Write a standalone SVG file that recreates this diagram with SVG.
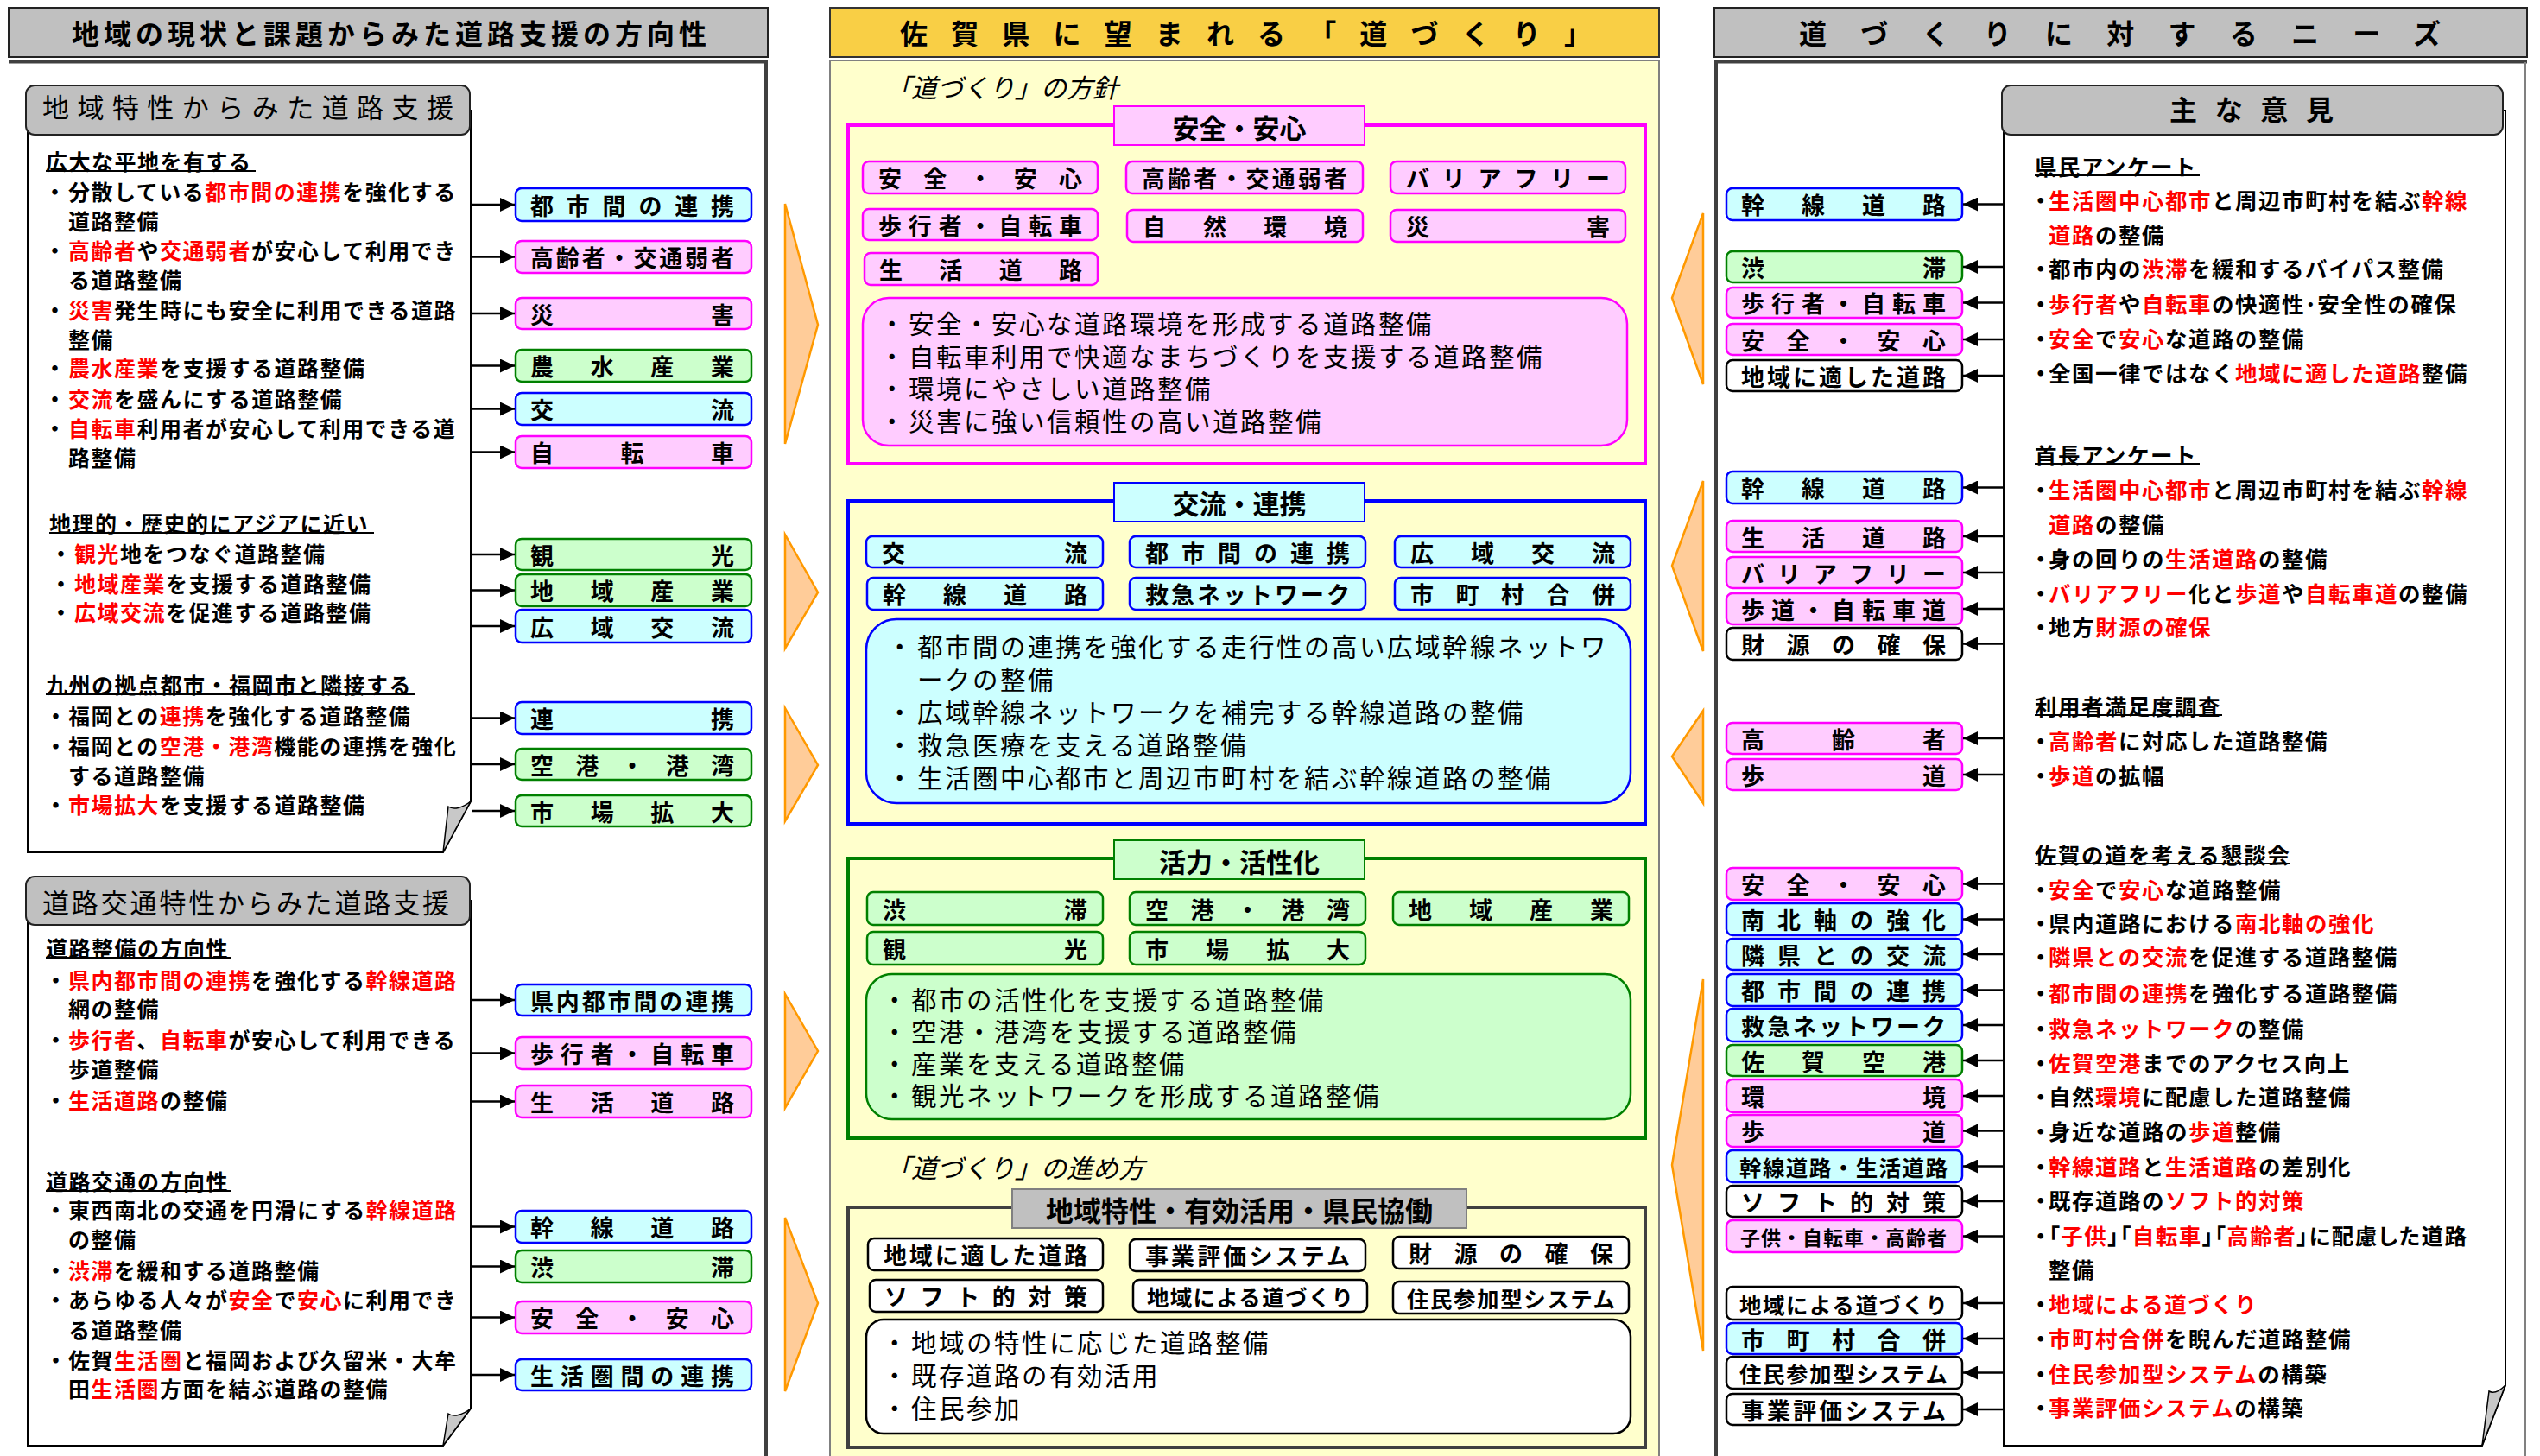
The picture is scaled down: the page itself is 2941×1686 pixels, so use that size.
<svg xmlns="http://www.w3.org/2000/svg" width="2941" height="1686" viewBox="0 0 2941 1686">
<style>
text{font-family:"Noto Sans CJK JP","Noto Sans CJK SC",sans-serif;dominant-baseline:central;fill:#000}
.tt{font-size:32px;font-weight:bold}
.sh{font-size:31px;font-weight:normal}
.t{font-size:25px;letter-spacing:1.5px;font-weight:bold}
.tr{font-size:25.5px;letter-spacing:1.5px;font-weight:bold}
.d{font-size:29.5px;letter-spacing:2.5px;font-weight:normal}
.it{font-size:30px;font-style:italic}
.hd{font-size:31px;font-weight:bold}
.lbl{font-size:27px;font-weight:bold}
.l26{font-size:25.5px}
.l23{font-size:23px}
.r{fill:#ff0000}
.palt{font-feature-settings:"palt"}
.bx{stroke-width:2.5}
.bl{fill:#ccffff;stroke:#0000ff}
.pk{fill:#ffccff;stroke:#ff00ff}
.gr{fill:#ccffcc;stroke:#008000}
.wh{fill:#ffffff;stroke:#000000}
.gy{fill:#c0c0c0;stroke:#222;stroke-width:2}
.ul{stroke:#000;stroke-width:2}
.ch{fill:#ffcc99;stroke:#ff9900;stroke-width:2.5}
.note{fill:#fff;stroke:#000;stroke-width:2}
.fold{fill:#c8c8c8;stroke:#000;stroke-width:1.5}
.ar{stroke:#000;stroke-width:2.5;fill:none;marker-end:url(#ah)}
</style>
<defs>
<marker id="ah" markerUnits="userSpaceOnUse" markerWidth="18" markerHeight="16" refX="17" refY="8" orient="auto"><path d="M0,0 L17,8 L0,16 Z" fill="#000"/></marker>
</defs>
<rect width="2941" height="1686" fill="#fff"/>

<!-- LEFT COLUMN -->
<g id="left-title">
<rect x="10" y="9" width="879" height="57" class="gy"/>
<text class="tt" x="83" y="37" textLength="735" lengthAdjust="spacing">地域の現状と課題からみた道路支援の方向性</text>
</g>
<path id="left-panel" d="M10,71.5 H887 V1690" fill="none" stroke="#404040" stroke-width="4"/>

<g id="left-note1">
<path class="note" d="M32,128 H545 V928 L513,987 H32 Z"/>
<path class="fold" d="M545,928 C535,936 525,938 519,934 L513,987 Z"/>
<rect x="30" y="99" width="514" height="57" rx="10" class="gy"/>
<text class="sh" x="49" y="122" textLength="476" lengthAdjust="spacing">地域特性からみた道路支援</text>
<line class="ul" x1="53" y1="198" x2="296" y2="198"/>
<line class="ul" x1="57" y1="617" x2="433" y2="617"/>
<line class="ul" x1="53" y1="804" x2="481" y2="804"/>
<text class="t"><tspan x="53" y="186">広大な平地を有する</tspan>
<tspan x="51" y="221">・</tspan><tspan x="79">分散している</tspan><tspan class="r">都市間の連携</tspan><tspan>を強化する</tspan>
<tspan x="79" y="255">道路整備</tspan>
<tspan x="51" y="289">・</tspan><tspan x="79" class="r">高齢者</tspan><tspan>や</tspan><tspan class="r">交通弱者</tspan><tspan>が安心して利用でき</tspan>
<tspan x="79" y="323">る道路整備</tspan>
<tspan x="51" y="358">・</tspan><tspan x="79" class="r">災害</tspan><tspan>発生時にも安全に利用できる道路</tspan>
<tspan x="79" y="392">整備</tspan>
<tspan x="51" y="425">・</tspan><tspan x="79" class="r">農水産業</tspan><tspan>を支援する道路整備</tspan>
<tspan x="51" y="461">・</tspan><tspan x="79" class="r">交流</tspan><tspan>を盛んにする道路整備</tspan>
<tspan x="51" y="495">・</tspan><tspan x="79" class="r">自転車</tspan><tspan>利用者が安心して利用できる道</tspan>
<tspan x="79" y="529">路整備</tspan>
<tspan x="57" y="605">地理的・歴史的にアジアに近い</tspan>
<tspan x="58" y="640">・</tspan><tspan x="86" class="r">観光</tspan><tspan>地をつなぐ道路整備</tspan>
<tspan x="58" y="675">・</tspan><tspan x="86" class="r">地域産業</tspan><tspan>を支援する道路整備</tspan>
<tspan x="58" y="708">・</tspan><tspan x="86" class="r">広域交流</tspan><tspan>を促進する道路整備</tspan>
<tspan x="53" y="792">九州の拠点都市・福岡市と隣接する</tspan>
<tspan x="52" y="828">・</tspan><tspan x="79">福岡との</tspan><tspan class="r">連携</tspan><tspan>を強化する道路整備</tspan>
<tspan x="52" y="863">・</tspan><tspan x="79">福岡との</tspan><tspan class="r">空港・港湾</tspan><tspan>機能の連携を強化</tspan>
<tspan x="79" y="897">する道路整備</tspan>
<tspan x="52" y="931">・</tspan><tspan x="79" class="r">市場拡大</tspan><tspan>を支援する道路整備</tspan></text>
</g>

<g id="left-note2">
<path class="note" d="M32,1043 H545 V1631 L513,1674 H32 Z"/>
<path class="fold" d="M545,1631 C535,1639 525,1641 519,1637 L513,1674 Z"/>
<rect x="30" y="1015" width="514" height="56" rx="10" class="gy"/>
<text class="sh" x="49" y="1043" textLength="471" lengthAdjust="spacing">道路交通特性からみた道路支援</text>
<line class="ul" x1="53" y1="1109" x2="268" y2="1109"/>
<line class="ul" x1="53" y1="1379" x2="268" y2="1379"/>
<text class="t"><tspan x="53" y="1097">道路整備の方向性</tspan>
<tspan x="52" y="1134">・</tspan><tspan x="79" class="r">県内都市間の連携</tspan><tspan>を強化する</tspan><tspan class="r">幹線道路</tspan>
<tspan x="79" y="1167">網の整備</tspan>
<tspan x="52" y="1203">・</tspan><tspan x="79" class="r">歩行者</tspan><tspan>、</tspan><tspan class="r">自転車</tspan><tspan>が安心して利用できる</tspan>
<tspan x="79" y="1237">歩道整備</tspan>
<tspan x="52" y="1273">・</tspan><tspan x="79" class="r">生活道路</tspan><tspan>の整備</tspan>
<tspan x="53" y="1367">道路交通の方向性</tspan>
<tspan x="52" y="1400">・</tspan><tspan x="79">東西南北の交通を円滑にする</tspan><tspan class="r">幹線道路</tspan>
<tspan x="79" y="1434">の整備</tspan>
<tspan x="52" y="1470">・</tspan><tspan x="79" class="r">渋滞</tspan><tspan>を緩和する道路整備</tspan>
<tspan x="52" y="1504">・</tspan><tspan x="79">あらゆる人々が</tspan><tspan class="r">安全</tspan><tspan>で</tspan><tspan class="r">安心</tspan><tspan>に利用でき</tspan>
<tspan x="79" y="1539">る道路整備</tspan>
<tspan x="52" y="1574">・</tspan><tspan x="79">佐賀</tspan><tspan class="r">生活圏</tspan><tspan>と福岡および久留米・大牟</tspan>
<tspan x="79" y="1607">田</tspan><tspan class="r">生活圏</tspan><tspan>方面を結ぶ道路の整備</tspan></text>
</g>

<g id="left-boxes">
<g id="L1"><rect class="bx bl" x="597" y="218" width="273" height="38" rx="7"/><text class="lbl" x="614" y="237" textLength="236" lengthAdjust="spacing">都市間の連携</text></g>
<g id="L2"><rect class="bx pk" x="597" y="279" width="273" height="37" rx="7"/><text class="lbl" x="614" y="297.5" textLength="236" lengthAdjust="spacing">高齢者・交通弱者</text></g>
<g id="L3"><rect class="bx pk" x="597" y="345" width="273" height="36" rx="7"/><text class="lbl" x="614" y="363" textLength="236" lengthAdjust="spacing">災害</text></g>
<g id="L4"><rect class="bx gr" x="597" y="405" width="273" height="37" rx="7"/><text class="lbl" x="614" y="423.5" textLength="236" lengthAdjust="spacing">農水産業</text></g>
<g id="L5"><rect class="bx bl" x="597" y="455" width="273" height="37" rx="7"/><text class="lbl" x="614" y="473.5" textLength="236" lengthAdjust="spacing">交流</text></g>
<g id="L6"><rect class="bx pk" x="597" y="505" width="273" height="37" rx="7"/><text class="lbl" x="614" y="523.5" textLength="236" lengthAdjust="spacing">自転車</text></g>
<g id="L7"><rect class="bx gr" x="597" y="624" width="273" height="36" rx="7"/><text class="lbl" x="614" y="642" textLength="236" lengthAdjust="spacing">観光</text></g>
<g id="L8"><rect class="bx gr" x="597" y="665" width="273" height="37" rx="7"/><text class="lbl" x="614" y="683.5" textLength="236" lengthAdjust="spacing">地域産業</text></g>
<g id="L9"><rect class="bx bl" x="597" y="706" width="273" height="38" rx="7"/><text class="lbl" x="614" y="725" textLength="236" lengthAdjust="spacing">広域交流</text></g>
<g id="L10"><rect class="bx bl" x="597" y="813" width="273" height="37" rx="7"/><text class="lbl" x="614" y="831.5" textLength="236" lengthAdjust="spacing">連携</text></g>
<g id="L11"><rect class="bx gr" x="597" y="867" width="273" height="36" rx="7"/><text class="lbl" x="614" y="885" textLength="236" lengthAdjust="spacing">空港・港湾</text></g>
<g id="L12"><rect class="bx gr" x="597" y="921" width="273" height="36" rx="7"/><text class="lbl" x="614" y="939" textLength="236" lengthAdjust="spacing">市場拡大</text></g>
<g id="L13"><rect class="bx bl" x="597" y="1140" width="273" height="36" rx="7"/><text class="lbl" x="614" y="1158" textLength="236" lengthAdjust="spacing">県内都市間の連携</text></g>
<g id="L14"><rect class="bx pk" x="597" y="1201" width="273" height="37" rx="7"/><text class="lbl" x="614" y="1219.5" textLength="236" lengthAdjust="spacing">歩行者・自転車</text></g>
<g id="L15"><rect class="bx pk" x="597" y="1257" width="273" height="37" rx="7"/><text class="lbl" x="614" y="1275.5" textLength="236" lengthAdjust="spacing">生活道路</text></g>
<g id="L16"><rect class="bx bl" x="597" y="1402" width="273" height="37" rx="7"/><text class="lbl" x="614" y="1420.5" textLength="236" lengthAdjust="spacing">幹線道路</text></g>
<g id="L17"><rect class="bx gr" x="597" y="1448" width="273" height="37" rx="7"/><text class="lbl" x="614" y="1466.5" textLength="236" lengthAdjust="spacing">渋滞</text></g>
<g id="L18"><rect class="bx pk" x="597" y="1507" width="273" height="37" rx="7"/><text class="lbl" x="614" y="1525.5" textLength="236" lengthAdjust="spacing">安全・安心</text></g>
<g id="L19"><rect class="bx bl" x="597" y="1574" width="273" height="36" rx="7"/><text class="lbl" x="614" y="1592" textLength="236" lengthAdjust="spacing">生活圏間の連携</text></g>
</g>

<!-- MIDDLE COLUMN -->
<g id="mid-title">
<rect x="961" y="9" width="960" height="57" fill="#f9cf45" stroke="#333" stroke-width="2"/>
<text class="tt" x="1042" y="37" textLength="801" lengthAdjust="spacing">佐賀県に望まれる「道づくり」</text>
</g>
<rect id="mid-panel" x="961" y="70" width="960" height="1630" fill="#ffffcc" stroke="#808080" stroke-width="2"/>
<text class="it" x="1025" y="100">「道づくり」の方針</text>

<g id="grp-anzen">
<rect x="982" y="145" width="923" height="392" fill="none" stroke="#ff00ff" stroke-width="4"/>
<rect x="1290" y="123" width="290" height="45" fill="#ffccff" stroke="#ff00ff" stroke-width="2"/>
<text class="hd" x="1435" y="146" text-anchor="middle">安全・安心</text>
<g id="M1"><rect class="bx pk" x="999" y="187" width="272" height="37" rx="7"/><text class="lbl" x="1017" y="205.5" textLength="236" lengthAdjust="spacing">安全・安心</text></g>
<g id="M2"><rect class="bx pk" x="1304" y="187" width="274" height="37" rx="7"/><text class="lbl" x="1322" y="205.5" textLength="238" lengthAdjust="spacing">高齢者・交通弱者</text></g>
<g id="M3"><rect class="bx pk" x="1610" y="187" width="272" height="37" rx="7"/><text class="lbl" x="1628" y="205.5" textLength="236" lengthAdjust="spacing">バリアフリー</text></g>
<g id="M4"><rect class="bx pk" x="999" y="242" width="272" height="36" rx="7"/><text class="lbl" x="1017" y="260" textLength="236" lengthAdjust="spacing">歩行者・自転車</text></g>
<g id="M5"><rect class="bx pk" x="1305" y="243" width="273" height="37" rx="7"/><text class="lbl" x="1323" y="261.5" textLength="237" lengthAdjust="spacing">自然環境</text></g>
<g id="M6"><rect class="bx pk" x="1610" y="243" width="272" height="37" rx="7"/><text class="lbl" x="1628" y="261.5" textLength="236" lengthAdjust="spacing">災害</text></g>
<g id="M7"><rect class="bx pk" x="1001" y="293" width="270" height="37" rx="7"/><text class="lbl" x="1018" y="311.5" textLength="235" lengthAdjust="spacing">生活道路</text></g>
<rect x="999" y="345" width="885" height="171" rx="30" fill="#ffccff" stroke="#ff00ff" stroke-width="2.5"/>
<text class="d"><tspan x="1018" y="373">・</tspan><tspan x="1052">安全・安心な道路環境を形成する道路整備</tspan>
<tspan x="1018" y="411">・</tspan><tspan x="1052">自転車利用で快適なまちづくりを支援する道路整備</tspan>
<tspan x="1018" y="448">・</tspan><tspan x="1052">環境にやさしい道路整備</tspan>
<tspan x="1018" y="486">・</tspan><tspan x="1052">災害に強い信頼性の高い道路整備</tspan></text>
</g>

<g id="grp-koryu">
<rect x="982" y="580" width="923" height="374" fill="none" stroke="#0000ff" stroke-width="4"/>
<rect x="1290" y="559" width="290" height="45" fill="#ccffff" stroke="#0000ff" stroke-width="2"/>
<text class="hd" x="1435" y="581" text-anchor="middle">交流・連携</text>
<g id="M8"><rect class="bx bl" x="1003" y="621" width="274" height="36" rx="7"/><text class="lbl" x="1021" y="639" textLength="238" lengthAdjust="spacing">交流</text></g>
<g id="M9"><rect class="bx bl" x="1308" y="621" width="273" height="36" rx="7"/><text class="lbl" x="1326" y="639" textLength="237" lengthAdjust="spacing">都市間の連携</text></g>
<g id="M10"><rect class="bx bl" x="1615" y="621" width="273" height="36" rx="7"/><text class="lbl" x="1633" y="639" textLength="237" lengthAdjust="spacing">広域交流</text></g>
<g id="M11"><rect class="bx bl" x="1004" y="669" width="273" height="37" rx="7"/><text class="lbl" x="1022" y="687.5" textLength="237" lengthAdjust="spacing">幹線道路</text></g>
<g id="M12"><rect class="bx bl" x="1308" y="669" width="273" height="37" rx="7"/><text class="lbl" x="1326" y="687.5" textLength="237" lengthAdjust="spacing">救急ネットワーク</text></g>
<g id="M13"><rect class="bx bl" x="1615" y="669" width="273" height="37" rx="7"/><text class="lbl" x="1633" y="687.5" textLength="237" lengthAdjust="spacing">市町村合併</text></g>
<rect x="1003" y="717" width="885" height="213" rx="35" fill="#ccffff" stroke="#0000ff" stroke-width="2.5"/>
<text class="d"><tspan x="1027" y="747">・</tspan><tspan x="1062">都市間の連携を強化する走行性の高い広域幹線ネットワ</tspan>
<tspan x="1062" y="785">ークの整備</tspan>
<tspan x="1027" y="823">・</tspan><tspan x="1062">広域幹線ネットワークを補完する幹線道路の整備</tspan>
<tspan x="1027" y="861">・</tspan><tspan x="1062">救急医療を支える道路整備</tspan>
<tspan x="1027" y="899">・</tspan><tspan x="1062">生活圏中心都市と周辺市町村を結ぶ幹線道路の整備</tspan></text>
</g>

<g id="grp-katsuryoku">
<rect x="982" y="994" width="923" height="324" fill="none" stroke="#008000" stroke-width="4"/>
<rect x="1290" y="973" width="290" height="45" fill="#ccffcc" stroke="#008000" stroke-width="2"/>
<text class="hd" x="1435" y="996" text-anchor="middle">活力・活性化</text>
<g id="M14"><rect class="bx gr" x="1004" y="1033" width="273" height="38" rx="7"/><text class="lbl" x="1022" y="1052" textLength="237" lengthAdjust="spacing">渋滞</text></g>
<g id="M15"><rect class="bx gr" x="1308" y="1033" width="273" height="38" rx="7"/><text class="lbl" x="1326" y="1052" textLength="237" lengthAdjust="spacing">空港・港湾</text></g>
<g id="M16"><rect class="bx gr" x="1613" y="1033" width="273" height="38" rx="7"/><text class="lbl" x="1631" y="1052" textLength="237" lengthAdjust="spacing">地域産業</text></g>
<g id="M17"><rect class="bx gr" x="1004" y="1079" width="273" height="38" rx="7"/><text class="lbl" x="1022" y="1098" textLength="237" lengthAdjust="spacing">観光</text></g>
<g id="M18"><rect class="bx gr" x="1308" y="1079" width="273" height="38" rx="7"/><text class="lbl" x="1326" y="1098" textLength="237" lengthAdjust="spacing">市場拡大</text></g>
<rect x="1003" y="1128" width="885" height="168" rx="30" fill="#ccffcc" stroke="#008000" stroke-width="2.5"/>
<text class="d"><tspan x="1021" y="1156">・</tspan><tspan x="1055">都市の活性化を支援する道路整備</tspan>
<tspan x="1021" y="1193">・</tspan><tspan x="1055">空港・港湾を支援する道路整備</tspan>
<tspan x="1021" y="1230">・</tspan><tspan x="1055">産業を支える道路整備</tspan>
<tspan x="1021" y="1267">・</tspan><tspan x="1055">観光ネットワークを形成する道路整備</tspan></text>
</g>

<text class="it" x="1025" y="1351">「道づくり」の進め方</text>

<g id="grp-chiiki">
<rect x="982" y="1398" width="923" height="278" fill="none" stroke="#404040" stroke-width="4"/>
<rect x="1172" y="1377" width="526" height="45" fill="#c0c0c0" stroke="#808080" stroke-width="2"/>
<text class="tt" x="1435" y="1400" text-anchor="middle">地域特性・有効活用・県民協働</text>
<g id="M19"><rect class="bx wh" x="1005" y="1434" width="272" height="37" rx="7"/><text class="lbl" x="1023" y="1452.5" textLength="236" lengthAdjust="spacing">地域に適した道路</text></g>
<g id="M20"><rect class="bx wh" x="1308" y="1435" width="273" height="37" rx="7"/><text class="lbl" x="1326" y="1453.5" textLength="237" lengthAdjust="spacing">事業評価システム</text></g>
<g id="M21"><rect class="bx wh" x="1613" y="1432" width="273" height="37" rx="7"/><text class="lbl" x="1631" y="1450.5" textLength="237" lengthAdjust="spacing">財源の確保</text></g>
<g id="M22"><rect class="bx wh" x="1007" y="1482" width="270" height="37" rx="7"/><text class="lbl" x="1024" y="1500.5" textLength="235" lengthAdjust="spacing">ソフト的対策</text></g>
<g id="M23"><rect class="bx wh" x="1312" y="1482" width="271" height="37" rx="7"/><text class="lbl l26" x="1328" y="1500.5" textLength="239" lengthAdjust="spacing">地域による道づくり</text></g>
<g id="M24"><rect class="bx wh" x="1613" y="1484" width="273" height="37" rx="7"/><text class="lbl l26" x="1629" y="1502.5" textLength="241" lengthAdjust="spacing">住民参加型システム</text></g>
<rect x="1003" y="1528" width="885" height="132" rx="20" fill="#ffffff" stroke="#000" stroke-width="2.5"/>
<text class="d"><tspan x="1021" y="1553">・</tspan><tspan x="1055">地域の特性に応じた道路整備</tspan>
<tspan x="1021" y="1591">・</tspan><tspan x="1055">既存道路の有効活用</tspan>
<tspan x="1021" y="1629">・</tspan><tspan x="1055">住民参加</tspan></text>
</g>

<!-- RIGHT COLUMN -->
<g id="right-title">
<rect x="1985" y="9" width="941" height="57" class="gy"/>
<text class="tt" x="2083" y="37" textLength="743" lengthAdjust="spacing">道づくりに対するニーズ</text>
</g>
<g id="right-panel">
<path d="M1987,1690 V71.5 H2926" fill="none" stroke="#404040" stroke-width="4"/>
<line x1="2924" y1="72" x2="2924" y2="1690" stroke="#808080" stroke-width="2"/>
</g>

<g id="right-note">
<path class="note" d="M2320,128 H2901 V1604 L2874,1674 H2320 Z"/>
<path class="fold" d="M2901,1604 C2893,1612 2887,1614 2882,1611 L2874,1674 Z"/>
<rect x="2318" y="99" width="580" height="57" rx="10" class="gy"/>
<text class="tt" x="2512" y="125" textLength="190" lengthAdjust="spacing">主な意見</text>
<line class="ul" x1="2356" y1="203" x2="2547" y2="203"/>
<line class="ul" x1="2356" y1="537" x2="2547" y2="537"/>
<line class="ul" x1="2356" y1="828" x2="2573" y2="828"/>
<line class="ul" x1="2356" y1="1000" x2="2652" y2="1000"/>
<text class="tr"><tspan x="2356" y="191">県民アンケート</tspan>
<tspan x="2350" y="230">・</tspan><tspan x="2372" class="r">生活圏中心都市</tspan><tspan>と周辺市町村を結ぶ</tspan><tspan class="r">幹線</tspan>
<tspan x="2372" y="270" class="r">道路</tspan><tspan>の整備</tspan>
<tspan x="2350" y="309">・</tspan><tspan x="2372">都市内の</tspan><tspan class="r">渋滞</tspan><tspan>を緩和するバイパス整備</tspan>
<tspan x="2350" y="350">・</tspan><tspan x="2372" class="r">歩行者</tspan><tspan>や</tspan><tspan class="r">自転車</tspan><tspan>の快適性･安全性の確保</tspan>
<tspan x="2350" y="390">・</tspan><tspan x="2372" class="r">安全</tspan><tspan>で</tspan><tspan class="r">安心</tspan><tspan>な道路の整備</tspan>
<tspan x="2350" y="430">・</tspan><tspan x="2372">全国一律ではなく</tspan><tspan class="r">地域に適した道路</tspan><tspan>整備</tspan>
<tspan x="2356" y="525">首長アンケート</tspan>
<tspan x="2350" y="565">・</tspan><tspan x="2372" class="r">生活圏中心都市</tspan><tspan>と周辺市町村を結ぶ</tspan><tspan class="r">幹線</tspan>
<tspan x="2372" y="605" class="r">道路</tspan><tspan>の整備</tspan>
<tspan x="2350" y="645">・</tspan><tspan x="2372">身の回りの</tspan><tspan class="r">生活道路</tspan><tspan>の整備</tspan>
<tspan x="2350" y="685">・</tspan><tspan x="2372" class="r">バリアフリー</tspan><tspan>化と</tspan><tspan class="r">歩道</tspan><tspan>や</tspan><tspan class="r">自転車道</tspan><tspan>の整備</tspan>
<tspan x="2350" y="724">・</tspan><tspan x="2372">地方</tspan><tspan class="r">財源の確保</tspan>
<tspan x="2356" y="816">利用者満足度調査</tspan>
<tspan x="2350" y="856">・</tspan><tspan x="2372" class="r">高齢者</tspan><tspan>に対応した道路整備</tspan>
<tspan x="2350" y="896">・</tspan><tspan x="2372" class="r">歩道</tspan><tspan>の拡幅</tspan>
<tspan x="2356" y="988">佐賀の道を考える懇談会</tspan>
<tspan x="2350" y="1028">・</tspan><tspan x="2372" class="r">安全</tspan><tspan>で</tspan><tspan class="r">安心</tspan><tspan>な道路整備</tspan>
<tspan x="2350" y="1067">・</tspan><tspan x="2372">県内道路における</tspan><tspan class="r">南北軸の強化</tspan>
<tspan x="2350" y="1106">・</tspan><tspan x="2372" class="r">隣県との交流</tspan><tspan>を促進する道路整備</tspan>
<tspan x="2350" y="1148">・</tspan><tspan x="2372" class="r">都市間の連携</tspan><tspan>を強化する道路整備</tspan>
<tspan x="2350" y="1189">・</tspan><tspan x="2372" class="r">救急ネットワーク</tspan><tspan>の整備</tspan>
<tspan x="2350" y="1229">・</tspan><tspan x="2372" class="r">佐賀空港</tspan><tspan>までのアクセス向上</tspan>
<tspan x="2350" y="1268">・</tspan><tspan x="2372">自然</tspan><tspan class="r">環境</tspan><tspan>に配慮した道路整備</tspan>
<tspan x="2350" y="1308">・</tspan><tspan x="2372">身近な道路の</tspan><tspan class="r">歩道</tspan><tspan>整備</tspan>
<tspan x="2350" y="1349">・</tspan><tspan x="2372" class="r">幹線道路</tspan><tspan>と</tspan><tspan class="r">生活道路</tspan><tspan>の差別化</tspan>
<tspan x="2350" y="1388">・</tspan><tspan x="2372">既存道路の</tspan><tspan class="r">ソフト的対策</tspan>
<tspan x="2350" y="1429">・</tspan><tspan x="2372" class="palt">「</tspan><tspan class="r palt">子供</tspan><tspan class="palt">」「</tspan><tspan class="r palt">自転車</tspan><tspan class="palt">」「</tspan><tspan class="r palt">高齢者</tspan><tspan class="palt">」に配慮した道路</tspan>
<tspan x="2372" y="1468">整備</tspan>
<tspan x="2350" y="1508">・</tspan><tspan x="2372" class="r">地域による道づくり</tspan>
<tspan x="2350" y="1548">・</tspan><tspan x="2372" class="r">市町村合併</tspan><tspan>を睨んだ道路整備</tspan>
<tspan x="2350" y="1589">・</tspan><tspan x="2372" class="r">住民参加型システム</tspan><tspan>の構築</tspan>
<tspan x="2350" y="1628">・</tspan><tspan x="2372" class="r">事業評価システム</tspan><tspan>の構築</tspan></text>
</g>

<g id="right-boxes">
<g id="R1"><rect class="bx bl" x="1999" y="218" width="273" height="37" rx="7"/><text class="lbl" x="2016" y="236.5" textLength="237" lengthAdjust="spacing">幹線道路</text></g>
<g id="R2"><rect class="bx gr" x="1999" y="291" width="273" height="36" rx="7"/><text class="lbl" x="2016" y="309" textLength="237" lengthAdjust="spacing">渋滞</text></g>
<g id="R3"><rect class="bx pk" x="1999" y="333" width="273" height="35" rx="7"/><text class="lbl" x="2016" y="350.5" textLength="237" lengthAdjust="spacing">歩行者・自転車</text></g>
<g id="R4"><rect class="bx pk" x="1999" y="375" width="273" height="36" rx="7"/><text class="lbl" x="2016" y="393" textLength="237" lengthAdjust="spacing">安全・安心</text></g>
<g id="R5"><rect class="bx wh" x="1999" y="417" width="273" height="36" rx="7"/><text class="lbl" x="2016" y="435" textLength="237" lengthAdjust="spacing">地域に適した道路</text></g>
<g id="R6"><rect class="bx bl" x="1999" y="546" width="273" height="37" rx="7"/><text class="lbl" x="2016" y="564.5" textLength="237" lengthAdjust="spacing">幹線道路</text></g>
<g id="R7"><rect class="bx pk" x="1999" y="603" width="273" height="36" rx="7"/><text class="lbl" x="2016" y="621" textLength="237" lengthAdjust="spacing">生活道路</text></g>
<g id="R8"><rect class="bx pk" x="1999" y="645" width="273" height="36" rx="7"/><text class="lbl" x="2016" y="663" textLength="237" lengthAdjust="spacing">バリアフリー</text></g>
<g id="R9"><rect class="bx pk" x="1999" y="687" width="273" height="36" rx="7"/><text class="lbl" x="2016" y="705" textLength="237" lengthAdjust="spacing">歩道・自転車道</text></g>
<g id="R10"><rect class="bx wh" x="1999" y="727" width="273" height="37" rx="7"/><text class="lbl" x="2016" y="745.5" textLength="237" lengthAdjust="spacing">財源の確保</text></g>
<g id="R11"><rect class="bx pk" x="1999" y="837" width="273" height="36" rx="7"/><text class="lbl" x="2016" y="855" textLength="237" lengthAdjust="spacing">高齢者</text></g>
<g id="R12"><rect class="bx pk" x="1999" y="879" width="273" height="36" rx="7"/><text class="lbl" x="2016" y="897" textLength="237" lengthAdjust="spacing">歩道</text></g>
<g id="R13"><rect class="bx pk" x="1999" y="1005" width="273" height="37" rx="7"/><text class="lbl" x="2016" y="1023.5" textLength="237" lengthAdjust="spacing">安全・安心</text></g>
<g id="R14"><rect class="bx bl" x="1999" y="1046" width="273" height="37" rx="7"/><text class="lbl" x="2016" y="1064.5" textLength="237" lengthAdjust="spacing">南北軸の強化</text></g>
<g id="R15"><rect class="bx bl" x="1999" y="1087" width="273" height="36" rx="7"/><text class="lbl" x="2016" y="1105" textLength="237" lengthAdjust="spacing">隣県との交流</text></g>
<g id="R16"><rect class="bx bl" x="1999" y="1128" width="273" height="37" rx="7"/><text class="lbl" x="2016" y="1146.5" textLength="237" lengthAdjust="spacing">都市間の連携</text></g>
<g id="R17"><rect class="bx bl" x="1999" y="1168" width="273" height="38" rx="7"/><text class="lbl" x="2016" y="1187" textLength="237" lengthAdjust="spacing">救急ネットワーク</text></g>
<g id="R18"><rect class="bx gr" x="1999" y="1210" width="273" height="36" rx="7"/><text class="lbl" x="2016" y="1228" textLength="237" lengthAdjust="spacing">佐賀空港</text></g>
<g id="R19"><rect class="bx pk" x="1999" y="1250" width="273" height="38" rx="7"/><text class="lbl" x="2016" y="1269" textLength="237" lengthAdjust="spacing">環境</text></g>
<g id="R20"><rect class="bx pk" x="1999" y="1291" width="273" height="37" rx="7"/><text class="lbl" x="2016" y="1309.5" textLength="237" lengthAdjust="spacing">歩道</text></g>
<g id="R21"><rect class="bx bl" x="1999" y="1332" width="273" height="37" rx="7"/><text class="lbl l26" x="2014" y="1350.5" textLength="241" lengthAdjust="spacing">幹線道路・生活道路</text></g>
<g id="R22"><rect class="bx wh" x="1999" y="1373" width="273" height="36" rx="7"/><text class="lbl" x="2016" y="1391" textLength="237" lengthAdjust="spacing">ソフト的対策</text></g>
<g id="R23"><rect class="bx pk" x="1999" y="1413" width="273" height="37" rx="7"/><text class="lbl l23" x="2015" y="1431.5" textLength="239" lengthAdjust="spacing">子供・自転車・高齢者</text></g>
<g id="R24"><rect class="bx wh" x="1999" y="1490" width="273" height="38" rx="7"/><text class="lbl l26" x="2014" y="1509" textLength="241" lengthAdjust="spacing">地域による道づくり</text></g>
<g id="R25"><rect class="bx bl" x="1999" y="1532" width="273" height="36" rx="7"/><text class="lbl" x="2016" y="1550" textLength="237" lengthAdjust="spacing">市町村合併</text></g>
<g id="R26"><rect class="bx wh" x="1999" y="1571" width="273" height="37" rx="7"/><text class="lbl l26" x="2014" y="1589.5" textLength="241" lengthAdjust="spacing">住民参加型システム</text></g>
<g id="R27"><rect class="bx wh" x="1999" y="1614" width="273" height="36" rx="7"/><text class="lbl" x="2016" y="1632" textLength="237" lengthAdjust="spacing">事業評価システム</text></g>
</g>

<g id="connectors">
<g id="chevrons">
<polygon class="ch" points="909,236 947,376 909,514"/>
<polygon class="ch" points="909,619 947,686 909,751"/>
<polygon class="ch" points="909,820 947,886 909,951"/>
<polygon class="ch" points="909,1151 947,1217 909,1283"/>
<polygon class="ch" points="909,1410 947,1509 909,1611"/>
<polygon class="ch" points="1972,247 1936,345 1972,445"/>
<polygon class="ch" points="1972,557 1936,655 1972,754"/>
<polygon class="ch" points="1972,823 1936,876 1972,930"/>
<polygon class="ch" points="1972,1134 1936,1349 1972,1564"/>
</g>
<g id="left-arrows">
<line class="ar" x1="546" y1="237" x2="596" y2="237"/>
<line class="ar" x1="546" y1="297.5" x2="596" y2="297.5"/>
<line class="ar" x1="546" y1="363" x2="596" y2="363"/>
<line class="ar" x1="546" y1="423.5" x2="596" y2="423.5"/>
<line class="ar" x1="546" y1="473.5" x2="596" y2="473.5"/>
<line class="ar" x1="546" y1="523.5" x2="596" y2="523.5"/>
<line class="ar" x1="546" y1="642" x2="596" y2="642"/>
<line class="ar" x1="546" y1="683.5" x2="596" y2="683.5"/>
<line class="ar" x1="546" y1="725" x2="596" y2="725"/>
<line class="ar" x1="546" y1="831.5" x2="596" y2="831.5"/>
<line class="ar" x1="546" y1="885" x2="596" y2="885"/>
<line class="ar" x1="546" y1="939" x2="596" y2="939"/>
<line class="ar" x1="546" y1="1158" x2="596" y2="1158"/>
<line class="ar" x1="546" y1="1219.5" x2="596" y2="1219.5"/>
<line class="ar" x1="546" y1="1275.5" x2="596" y2="1275.5"/>
<line class="ar" x1="546" y1="1420.5" x2="596" y2="1420.5"/>
<line class="ar" x1="546" y1="1466.5" x2="596" y2="1466.5"/>
<line class="ar" x1="546" y1="1525.5" x2="596" y2="1525.5"/>
<line class="ar" x1="546" y1="1592" x2="596" y2="1592"/>
</g>
<g id="right-arrows">
<line class="ar" x1="2319" y1="236.5" x2="2273" y2="236.5"/>
<line class="ar" x1="2319" y1="309" x2="2273" y2="309"/>
<line class="ar" x1="2319" y1="350.5" x2="2273" y2="350.5"/>
<line class="ar" x1="2319" y1="393" x2="2273" y2="393"/>
<line class="ar" x1="2319" y1="435" x2="2273" y2="435"/>
<line class="ar" x1="2319" y1="564.5" x2="2273" y2="564.5"/>
<line class="ar" x1="2319" y1="621" x2="2273" y2="621"/>
<line class="ar" x1="2319" y1="663" x2="2273" y2="663"/>
<line class="ar" x1="2319" y1="705" x2="2273" y2="705"/>
<line class="ar" x1="2319" y1="745.5" x2="2273" y2="745.5"/>
<line class="ar" x1="2319" y1="855" x2="2273" y2="855"/>
<line class="ar" x1="2319" y1="897" x2="2273" y2="897"/>
<line class="ar" x1="2319" y1="1023.5" x2="2273" y2="1023.5"/>
<line class="ar" x1="2319" y1="1064.5" x2="2273" y2="1064.5"/>
<line class="ar" x1="2319" y1="1105" x2="2273" y2="1105"/>
<line class="ar" x1="2319" y1="1146.5" x2="2273" y2="1146.5"/>
<line class="ar" x1="2319" y1="1187" x2="2273" y2="1187"/>
<line class="ar" x1="2319" y1="1228" x2="2273" y2="1228"/>
<line class="ar" x1="2319" y1="1269" x2="2273" y2="1269"/>
<line class="ar" x1="2319" y1="1309.5" x2="2273" y2="1309.5"/>
<line class="ar" x1="2319" y1="1350.5" x2="2273" y2="1350.5"/>
<line class="ar" x1="2319" y1="1391" x2="2273" y2="1391"/>
<line class="ar" x1="2319" y1="1431.5" x2="2273" y2="1431.5"/>
<line class="ar" x1="2319" y1="1509" x2="2273" y2="1509"/>
<line class="ar" x1="2319" y1="1550" x2="2273" y2="1550"/>
<line class="ar" x1="2319" y1="1589.5" x2="2273" y2="1589.5"/>
<line class="ar" x1="2319" y1="1632" x2="2273" y2="1632"/>
</g>
</g>
</svg>
